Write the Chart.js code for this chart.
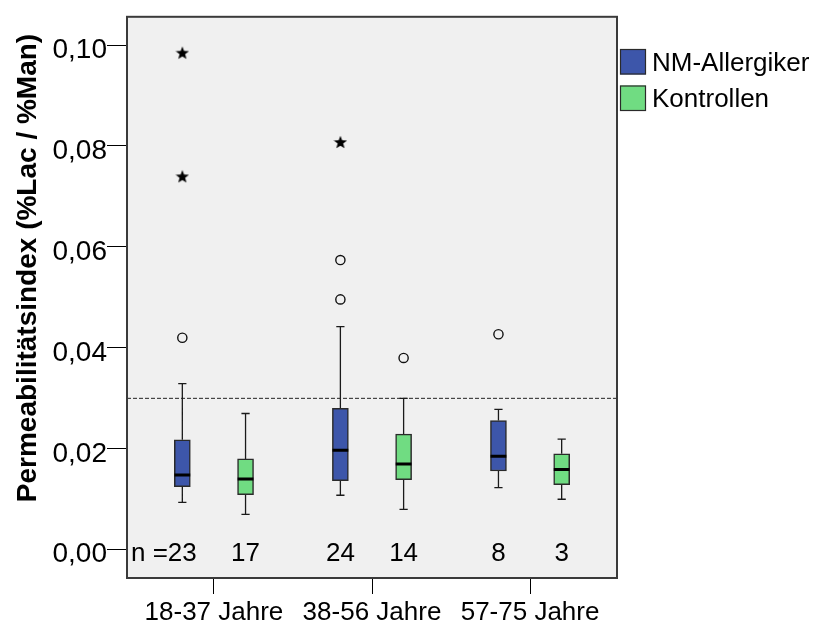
<!DOCTYPE html>
<html>
<head>
<meta charset="utf-8">
<script src="https://cdn.jsdelivr.net/npm/chart.js@4/dist/chart.umd.min.js"></script>
<style>
  html, body { margin: 0; padding: 0; background: #ffffff; }
  #wrap { width: 819px; height: 624px; }
</style>
</head>
<body>
<div id="wrap"><canvas id="c" width="819" height="624"></canvas></div>
<script>
// ---------- data ----------
const categories = ['18-37 Jahre', '38-56 Jahre', '57-75 Jahre'];
const seriesNames = ['NM-Allergiker', 'Kontrollen'];
const yAxisTitle = 'Permeabilitätsindex (%Lac / %Man)';
const yTicks = [0.00, 0.02, 0.04, 0.06, 0.08, 0.10];
const referenceValue = 0.03;

// NM-Allergiker
const allergWhiskLo = [0.0094, 0.0108, 0.0123];
const allergQ1      = [0.0125, 0.0137, 0.0156];
const allergMedian  = [0.0148, 0.0197, 0.0185];
const allergQ3      = [0.0218, 0.0280, 0.0256];
const allergWhiskHi = [0.0329, 0.0442, 0.0278];
const allergOutliers = [[0.0420], [0.0574, 0.0496], [0.0427]];
const allergExtremes = [[0.0985, 0.0740], [0.0808], []];
const allergN = [23, 24, 8];

// Kontrollen
const kontrWhiskLo = [0.0070, 0.0080, 0.0100];
const kontrQ1      = [0.0109, 0.0139, 0.0129];
const kontrMedian  = [0.0140, 0.0170, 0.0159];
const kontrQ3      = [0.0180, 0.0229, 0.0190];
const kontrWhiskHi = [0.0270, 0.0300, 0.0219];
const kontrOutliers = [[], [0.0380], []];
const kontrExtremes = [[], [], []];
const kontrN = [17, 14, 3];

// ---------- layout / style ----------
const FONT = "'Liberation Sans', Arial, Helvetica, sans-serif";
const X_MIN = 0.45, X_MAX = 3.55;
const Y_MIN = -0.0056, Y_MAX = 0.1056;
const GROUP_OFFSET = 0.2;
const HALF_BOX = 0.05;
const HALF_CAP = 0.026;
const BLUE = '#3d56aa';
const GREEN = '#70dc82';

const series = [
  { name: seriesNames[0], color: BLUE, off: -GROUP_OFFSET, lo: allergWhiskLo, q1: allergQ1, med: allergMedian, q3: allergQ3, hi: allergWhiskHi, out: allergOutliers, ext: allergExtremes, n: allergN },
  { name: seriesNames[1], color: GREEN, off: GROUP_OFFSET, lo: kontrWhiskLo, q1: kontrQ1, med: kontrMedian, q3: kontrQ3, hi: kontrWhiskHi, out: kontrOutliers, ext: kontrExtremes, n: kontrN }
];

function cx(s, i) { return i + 1 + s.off; }

function boxData(s) {
  return categories.map((c, i) => ({ x: cx(s, i), y: [s.q1[i], s.q3[i]] }));
}
function whiskerData() {
  const d = [];
  series.forEach(s => categories.forEach((c, i) => {
    const x = cx(s, i);
    d.push({ x: x, y: s.q3[i] }, { x: x, y: s.hi[i] }, { x: x, y: null });
    d.push({ x: x, y: s.q1[i] }, { x: x, y: s.lo[i] }, { x: x, y: null });
    d.push({ x: x - HALF_CAP, y: s.hi[i] }, { x: x + HALF_CAP, y: s.hi[i] }, { x: x, y: null });
    d.push({ x: x - HALF_CAP, y: s.lo[i] }, { x: x + HALF_CAP, y: s.lo[i] }, { x: x, y: null });
  }));
  return d;
}
function medianData() {
  const d = [];
  series.forEach(s => categories.forEach((c, i) => {
    const x = cx(s, i);
    d.push({ x: x - HALF_BOX, y: s.med[i] }, { x: x + HALF_BOX, y: s.med[i] }, { x: x, y: null });
  }));
  return d;
}
function pointData(key) {
  const d = [];
  series.forEach(s => categories.forEach((c, i) => {
    s[key][i].forEach(v => d.push({ x: cx(s, i), y: v }));
  }));
  return d;
}

// five-pointed star marker for extreme values
function makeStar(size) {
  const cv = document.createElement('canvas');
  cv.width = size; cv.height = size;
  const g = cv.getContext('2d');
  const r = size / 2, ri = r * 0.42;
  g.beginPath();
  for (let k = 0; k < 10; k++) {
    const rr = k % 2 === 0 ? r : ri;
    const a = -Math.PI / 2 + k * Math.PI / 5;
    const px = r + rr * Math.cos(a), py = r + 0.7 + rr * Math.sin(a);
    if (k === 0) g.moveTo(px, py); else g.lineTo(px, py);
  }
  g.closePath();
  g.fillStyle = '#000';
  g.fill();
  return cv;
}
const starImg = makeStar(14);

// ---------- plugins ----------
const decor = {
  id: 'decor',
  beforeDatasetsDraw(chart) {
    const { ctx, chartArea: a } = chart;
    ctx.save();
    ctx.fillStyle = '#f0f0f0';
    ctx.fillRect(a.left, a.top, a.right - a.left, a.bottom - a.top);
    ctx.restore();
  },
  afterDraw(chart) {
    const { ctx, chartArea: a, scales } = chart;
    ctx.save();
    // frame
    ctx.strokeStyle = '#3a3a3a';
    ctx.lineWidth = 2;
    ctx.strokeRect(a.left, a.top, a.right - a.left, a.bottom - a.top);
    // n labels
    ctx.fillStyle = '#000';
    ctx.font = '26px ' + FONT;
    ctx.textBaseline = 'middle';
    const ny = a.bottom - 24;
    series.forEach((s, si) => categories.forEach((c, i) => {
      const px = scales.x.getPixelForValue(cx(s, i));
      ctx.textAlign = 'center';
      ctx.fillText(String(s.n[i]), px, ny);
      if (si === 0 && i === 0) {
        const w = ctx.measureText(String(s.n[i])).width;
        ctx.textAlign = 'right';
        ctx.fillText('n =', px - w / 2, ny);
      }
    }));
    // y axis title
    ctx.save();
    ctx.translate(28, 268);
    ctx.rotate(-Math.PI / 2);
    ctx.font = 'bold 28px ' + FONT;
    ctx.textAlign = 'center';
    ctx.textBaseline = 'middle';
    ctx.fillText(yAxisTitle, 0, 0);
    ctx.restore();
    // legend (from the box datasets)
    const boxSets = chart.data.datasets.filter(d => d.type === 'bar');
    boxSets.forEach((d, k) => {
      const bx = 620, by = 49 + k * 36.5, bs = 26;
      ctx.fillStyle = d.backgroundColor;
      ctx.fillRect(bx, by, bs, bs - 0.5);
      ctx.strokeStyle = '#2a2a2a';
      ctx.lineWidth = 1.2;
      ctx.strokeRect(bx + 0.5, by + 0.5, bs - 1, bs - 1.5);
      ctx.fillStyle = '#000';
      ctx.font = '26px ' + FONT;
      ctx.textAlign = 'left';
      ctx.textBaseline = 'middle';
      ctx.fillText(d.label, 652, by + bs / 2 + 1.5);
    });
    ctx.restore();
  }
};

// ---------- chart ----------
const datasets = [
  {
    type: 'line', label: 'ref', order: 6,
    data: [{ x: X_MIN, y: referenceValue }, { x: X_MAX, y: referenceValue }],
    borderColor: '#222', borderWidth: 1, borderDash: [4, 2], pointRadius: 0, fill: false
  },
  {
    type: 'line', label: 'whiskers', order: 5,
    data: whiskerData(), spanGaps: false,
    borderColor: '#1a1a1a', borderWidth: 1.3, pointRadius: 0, fill: false, tension: 0
  },
  ...series.map((s, k) => ({
    type: 'bar', label: s.name, order: 4,
    data: boxData(s), grouped: false,
    backgroundColor: s.color, borderColor: '#2a2a2a', borderWidth: 1.5,
    borderSkipped: false, barThickness: 16
  })),
  {
    type: 'line', label: 'median', order: 2,
    data: medianData(), spanGaps: false,
    borderColor: '#000', borderWidth: 3, pointRadius: 0, fill: false, tension: 0
  },
  {
    type: 'scatter', label: 'outliers', order: 1,
    data: pointData('out'),
    pointStyle: 'circle', pointRadius: 4.6, pointBorderWidth: 1.4,
    pointBorderColor: '#111', pointBackgroundColor: 'rgba(0,0,0,0)',
    borderColor: '#111', backgroundColor: 'rgba(0,0,0,0)'
  },
  {
    type: 'scatter', label: 'extremes', order: 1,
    data: pointData('ext'),
    pointStyle: starImg, pointRadius: 7
  }
];

new Chart(document.getElementById('c'), {
  data: { datasets },
  options: {
    responsive: false,
    animation: false,
    events: [],
    layout: { padding: { top: 11, right: 202, bottom: 0, left: 0 } },
    plugins: { legend: { display: false }, tooltip: { enabled: false } },
    scales: {
      x: {
        type: 'linear', min: X_MIN, max: X_MAX, offset: false, bounds: 'ticks',
        afterBuildTicks: sc => { sc.ticks = categories.map((c, i) => ({ value: i + 1 })); },
        afterFit: sc => { sc.height = 46; },
        grid: { offset: false, drawOnChartArea: false, drawTicks: true, tickLength: 16, color: '#000', lineWidth: 1 },
        border: { display: false },
        ticks: {
          autoSkip: false, maxRotation: 0, minRotation: 0, padding: 3,
          color: '#000', font: { family: FONT, size: 26 },
          callback: v => categories[Math.round(v) - 1] || ''
        }
      },
      y: {
        type: 'linear', min: Y_MIN, max: Y_MAX,
        afterBuildTicks: sc => { sc.ticks = yTicks.map(v => ({ value: v })); },
        afterFit: sc => { sc.width = 127; },
        grid: { drawOnChartArea: false, drawTicks: true, tickLength: 20, color: '#000', lineWidth: 1 },
        border: { display: false },
        ticks: {
          padding: 0, labelOffset: 5, color: '#000', font: { family: FONT, size: 28 },
          callback: v => v.toFixed(2).replace('.', ',')
        }
      }
    }
  },
  plugins: [decor]
});
</script>
</body>
</html>
